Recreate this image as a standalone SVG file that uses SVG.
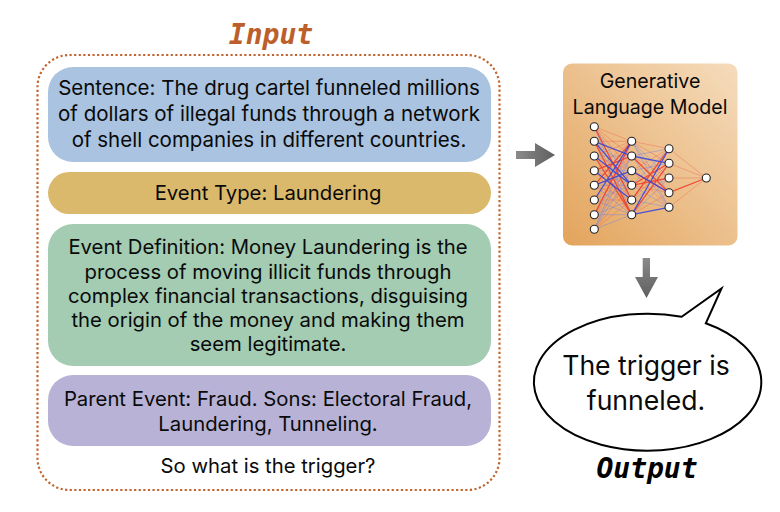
<svg xmlns="http://www.w3.org/2000/svg" width="780" height="512" viewBox="0 0 780 512">
<style>
text{font-family:Inter,"Liberation Sans",sans-serif;fill:#0a0a0a;text-anchor:middle;font-size:20.300px}
.wide{font-size:20.500px}
.title{font-size:19.600px}
.say{font-size:26.600px}
.mono{font-family:"DejaVu Sans Mono","Liberation Mono",monospace;font-style:italic;font-weight:700;font-size:28px}
.n{fill:#fff;stroke:#222;stroke-width:1.100}
.e{fill:none}
.sr{stroke:#ee3a2a;stroke-width:1.300;opacity:.85}
.sb{stroke:#2f3fe0;stroke-width:1.300;opacity:.85}
.lr{stroke:#f0604a;stroke-width:1;opacity:.4}
.lb{stroke:#7a80e0;stroke-width:1;opacity:.45}
</style>
<defs>
<linearGradient id="g" x1="0" y1="1" x2="1" y2="0"><stop offset="0" stop-color="#e3a45c"/><stop offset="1" stop-color="#f5dcbd"/></linearGradient>
<linearGradient id="ad" x1="0" y1="0" x2="0" y2="1"><stop offset="0" stop-color="#8a8a8a"/><stop offset="1" stop-color="#5f5f5f"/></linearGradient>
<linearGradient id="ar" x1="0" y1="0" x2="1" y2="0"><stop offset="0" stop-color="#8a8a8a"/><stop offset="1" stop-color="#5f5f5f"/></linearGradient>
</defs>
<g id="input-label"><text class="mono" x="271" y="44" style="fill:#bd5f2a">Input</text></g>
<g id="input-frame"><rect x="37.500" y="55" width="462" height="435" rx="32" fill="none" stroke="#c0652f" stroke-width="2.200" stroke-dasharray="2.200 2.400"/></g>
<g id="sentence"><rect x="48" y="67" width="443" height="95" rx="25" fill="#a9c3e0"/>
<text class="wide" x="269" y="95">Sentence: The drug cartel funneled millions</text>
<text class="wide" x="269" y="121">of dollars of illegal funds through a network</text>
<text class="wide" x="269" y="147">of shell companies in different countries.</text></g>
<g id="event-type"><rect x="48" y="172" width="443" height="42" rx="21" fill="#dbb96c"/>
<text x="268" y="200">Event Type: Laundering</text></g>
<g id="definition"><rect x="48" y="224" width="443" height="142" rx="25" fill="#a3ccb2"/>
<text x="268" y="254">Event Definition: Money Laundering is the</text>
<text x="268" y="279">process of moving illicit funds through</text>
<text x="268" y="303">complex financial transactions, disguising</text>
<text x="268" y="327">the origin of the money and making them</text>
<text x="268" y="351">seem legitimate.</text></g>
<g id="parent"><rect x="48" y="375" width="443" height="71" rx="25" fill="#b7b2d6"/>
<text x="268" y="406">Parent Event: Fraud. Sons: Electoral Fraud,</text>
<text x="268" y="431">Laundering, Tunneling.</text></g>
<g id="question"><text x="268" y="473">So what is the trigger?</text></g>
<g id="arrows">
<path d="M516 151H535V143L555 155L535 167V159H516Z" fill="url(#ar)"/>
<path d="M642.700 258H650V277H658L646.500 298L635 277H642.700Z" fill="url(#ad)"/>
</g>
<g id="model"><rect x="563" y="63.500" width="174.500" height="182" rx="9" fill="url(#g)"/>
<text class="title" x="650" y="88">Generative</text>
<text class="title" x="650" y="114">Language Model</text></g>
<g id="connectors" class="e">
<path class="lr" d="M594.300 126.700L631.700 141.300M594.300 126.700L631.700 156M594.300 126.700L631.700 170.700M594.300 141.300L631.700 141.300M594.300 141.300L631.700 156M594.300 141.300L631.700 185.300M594.300 156L631.700 141.300M594.300 156L631.700 170.700M594.300 156L631.700 200M594.300 170.700L631.700 141.300M594.300 170.700L631.700 156M594.300 170.700L631.700 185.300M594.300 170.700L631.700 214.700M594.300 185.300L631.700 156M594.300 185.300L631.700 170.700M594.300 185.300L631.700 200M594.300 200L631.700 156M594.300 200L631.700 170.700M594.300 200L631.700 200M594.300 214.700L631.700 141.300M594.300 214.700L631.700 170.700M594.300 214.700L631.700 185.300M594.300 229.300L631.700 185.300M594.300 229.300L631.700 200M631.700 141.300L669 148.700M631.700 141.300L669 163.300M631.700 156L669 178M631.700 170.700L669 148.700M631.700 170.700L669 207.300M631.700 185.300L669 192.700M631.700 200L669 163.300M631.700 214.700L669 192.700M669 148.700L706.300 178M669 163.300L706.300 178M669 178L706.300 178M669 207.300L706.300 178"/>
<path class="lb" d="M594.300 126.700L631.700 185.300M594.300 126.700L631.700 214.700M594.300 141.300L631.700 170.700M594.300 141.300L631.700 200M594.300 156L631.700 156M594.300 156L631.700 185.300M594.300 170.700L631.700 170.700M594.300 170.700L631.700 200M594.300 185.300L631.700 185.300M594.300 185.300L631.700 214.700M594.300 200L631.700 185.300M594.300 200L631.700 214.700M594.300 214.700L631.700 156M594.300 214.700L631.700 200M594.300 214.700L631.700 214.700M594.300 229.300L631.700 141.300M594.300 229.300L631.700 156M594.300 229.300L631.700 170.700M594.300 229.300L631.700 214.700M631.700 141.300L669 178M631.700 141.300L669 192.700M631.700 141.300L669 207.300M631.700 156L669 148.700M631.700 156L669 207.300M631.700 170.700L669 163.300M631.700 185.300L669 207.300M631.700 185.300L669 148.700M631.700 200L669 178M631.700 200L669 207.300M631.700 214.700L669 178"/>
<path class="sr" d="M594.300 126.700L631.700 200M594.300 141.300L631.700 214.700M594.300 156L631.700 214.700M594.300 170.700L631.700 156M594.300 185.300L631.700 141.300M594.300 214.700L631.700 141.300M631.700 156L669 192.700M631.700 170.700L669 192.700M631.700 185.300L669 163.300M631.700 200L669 148.700M631.700 214.700L669 163.300M631.700 185.300L669 178M669 192.700L706.300 178"/>
<path class="sb" d="M594.300 141.300L631.700 156M594.300 141.300L631.700 185.300M594.300 156L631.700 185.300M594.300 170.700L631.700 200M594.300 200L631.700 141.300M594.300 185.300L631.700 170.700M631.700 214.700L669 148.700M631.700 214.700L669 207.300M631.700 170.700L669 192.700M631.700 156L669 163.300"/>
</g>
<g id="nn-nodes" class="n">
<circle cx="594.300" cy="126.700" r="4"/><circle cx="594.300" cy="141.300" r="4"/><circle cx="594.300" cy="156" r="4"/><circle cx="594.300" cy="170.700" r="4"/><circle cx="594.300" cy="185.300" r="4"/><circle cx="594.300" cy="200" r="4"/><circle cx="594.300" cy="214.700" r="4"/><circle cx="594.300" cy="229.300" r="4"/>
<circle cx="631.700" cy="141.300" r="4"/><circle cx="631.700" cy="156" r="4"/><circle cx="631.700" cy="170.700" r="4"/><circle cx="631.700" cy="185.300" r="4"/><circle cx="631.700" cy="200" r="4"/><circle cx="631.700" cy="214.700" r="4"/>
<circle cx="669" cy="148.700" r="4"/><circle cx="669" cy="163.300" r="4"/><circle cx="669" cy="178" r="4"/><circle cx="669" cy="192.700" r="4"/><circle cx="669" cy="207.300" r="4"/>
<circle cx="706.300" cy="178" r="4"/>
</g>
<g id="bubble"><path d="M681.700 316.800L721.500 288.500L705.800 323.300A113.700 68.500 0 1 1 681.700 316.800Z" fill="#fff" stroke="#000" stroke-width="2"/>
<text class="say" x="646" y="375">The trigger is</text>
<text class="say" x="646" y="410">funneled.</text></g>
<g id="output-label"><text class="mono" x="647" y="478" style="fill:#000">Output</text></g>
</svg>
